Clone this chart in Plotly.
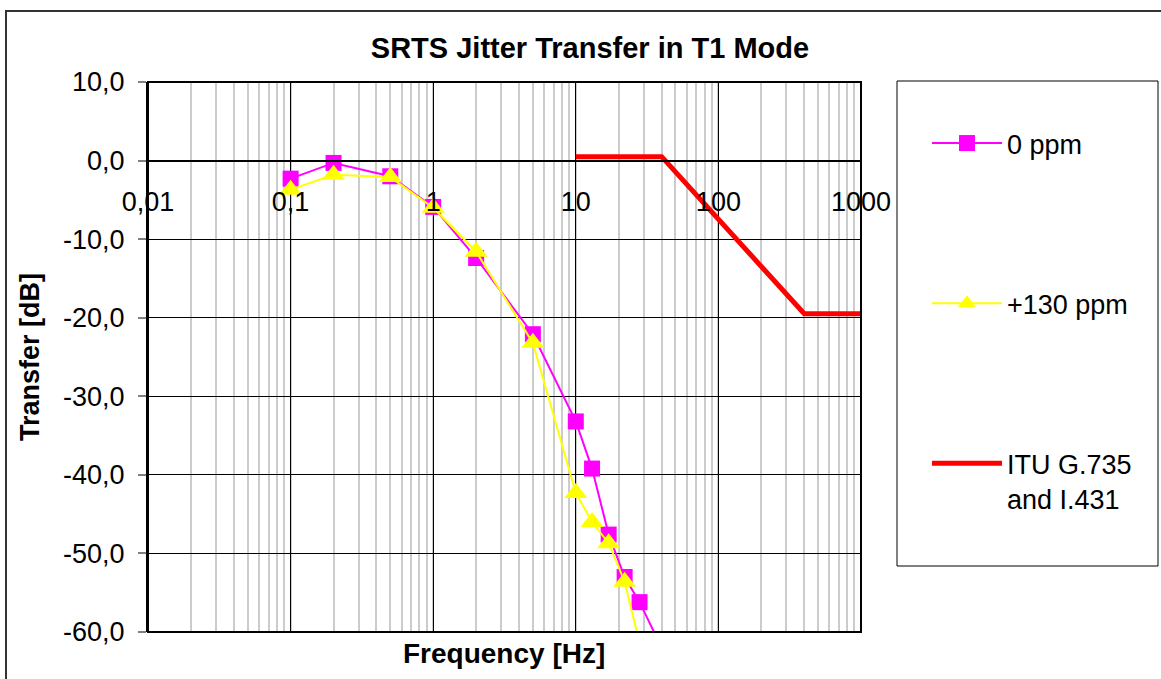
import plotly.graph_objects as go

# Measured jitter transfer, 0 ppm offset
freq_0ppm = [0.1, 0.2, 0.5, 1, 2, 5, 10, 13, 17, 22, 28, 40]
gain_0ppm = [-2.3, -0.3, -2.0, -5.9, -12.4, -22.1, -33.2, -39.2, -47.6, -53.0, -56.2, -62.0]

# Measured jitter transfer, +130 ppm offset
freq_130ppm = [0.1, 0.2, 0.5, 1, 2, 5, 10, 13, 17, 22, 28]
gain_130ppm = [-3.7, -1.8, -2.1, -6.0, -11.6, -23.2, -42.3, -46.0, -48.7, -53.6, -61.4]

# ITU G.735 / I.431 jitter transfer mask
freq_itu = [10, 40, 400, 1200]
gain_itu = [0.5, 0.5, -19.5, -19.5]

x_tickvals = [0.01, 0.1, 1, 10, 100, 1000]
x_ticktext = ["0,01", "0,1", "1", "10", "100", "1000"]
y_tickvals = [10, 0, -10, -20, -30, -40, -50, -60]
y_ticktext = ["10,0", "0,0", "-10,0", "-20,0", "-30,0", "-40,0", "-50,0", "-60,0"]

FONT = "Arial, Liberation Sans, sans-serif"

# plot-area geometry in pixels
W, H = 1161, 679
L, R, T, B = 148, 300, 82, 47
PW, PH = W - L - R, H - T - B


def px_x(px):
    return (px - L) / PW


def px_y(py):
    return (H - B - py) / PH


fig = go.Figure()

fig.add_trace(go.Scatter(
    x=freq_0ppm, y=gain_0ppm, name="0 ppm", mode="lines+markers",
    line=dict(color="#FF00FF", width=2),
    marker=dict(symbol="square", size=16, color="#FF00FF"),
    legendgroup="a",
))
fig.add_trace(go.Scatter(
    x=freq_130ppm, y=gain_130ppm, name="+130 ppm", mode="lines+markers",
    line=dict(color="#FFFF00", width=2),
    marker=dict(symbol="triangle-up", size=20, color="#FFFF00"),
    legendgroup="b",
))
fig.add_trace(go.Scatter(
    x=freq_itu, y=gain_itu, name="ITU G.735<br>and I.431", mode="lines",
    line=dict(color="#FF0000", width=5),
    legendgroup="c",
))

# y position of the 0 dB line as a fraction of the plot height
y_zero_frac = (0 - (-60)) / 70

fig.update_layout(
    width=W, height=H,
    margin=dict(l=L, r=R, t=T, b=B, pad=0),
    paper_bgcolor="white", plot_bgcolor="white",
    font=dict(family=FONT, size=27, color="black"),
    title=dict(
        text="<b>SRTS Jitter Transfer in T1 Mode</b>",
        x=590 / W, xref="container", xanchor="center",
        y=1 - 48 / H, yref="container", yanchor="middle",
        font=dict(family=FONT, size=29, color="black"),
    ),
    xaxis=dict(
        type="log", range=[-2, 3],
        tickvals=x_tickvals, ticktext=x_ticktext,
        anchor="free", position=y_zero_frac,
        showline=True, linecolor="black", linewidth=1.5,
        ticks="", ticklabelstandoff=17,
        showgrid=True, gridcolor="black", gridwidth=1,
        minor=dict(dtick="D1", showgrid=True, gridcolor="#CCCCCC", gridwidth=1.5),
        zeroline=False,
        tickfont=dict(family=FONT, size=27, color="black"),
    ),
    yaxis=dict(
        range=[-60, 10], tickvals=y_tickvals, ticktext=y_ticktext,
        showline=True, linecolor="black", linewidth=2,
        ticks="outside", ticklen=8, tickcolor="#808080", tickwidth=2,
        ticklabelstandoff=8,
        showgrid=True, gridcolor="black", gridwidth=1,
        zeroline=False,
        tickfont=dict(family=FONT, size=27, color="black"),
    ),
    showlegend=True,
    legend=dict(
        x=px_x(927), y=px_y(119), xanchor="left", yanchor="top",
        bgcolor="rgba(0,0,0,0)", borderwidth=0,
        tracegroupgap=122, valign="top", itemwidth=70,
        font=dict(family=FONT, size=27, color="black"),
    ),
)

shapes = [
    # chart border
    dict(type="rect", xref="paper", yref="paper",
         x0=px_x(6), x1=px_x(1175), y0=px_y(700), y1=px_y(11),
         line=dict(color="#333333", width=2), layer="below"),
    # plot area border
    dict(type="rect", xref="paper", yref="paper", x0=0, x1=1, y0=0, y1=1,
         line=dict(color="black", width=2)),
    # legend frame
    dict(type="rect", xref="paper", yref="paper",
         x0=px_x(897), x1=px_x(1158), y0=px_y(566), y1=px_y(81),
         line=dict(color="black", width=1)),
]
fig.update_layout(shapes=shapes)

fig.add_annotation(
    text="<b>Frequency [Hz]</b>", xref="paper", yref="paper",
    x=px_x(504), y=px_y(653), xanchor="center", yanchor="middle",
    showarrow=False, font=dict(family=FONT, size=28, color="black"),
)
fig.add_annotation(
    text="<b>Transfer [dB]</b>", xref="paper", yref="paper",
    x=px_x(30), y=px_y(357), xanchor="center", yanchor="middle",
    textangle=-90, showarrow=False,
    font=dict(family=FONT, size=27, color="black"),
)

fig.write_html("out.html")
